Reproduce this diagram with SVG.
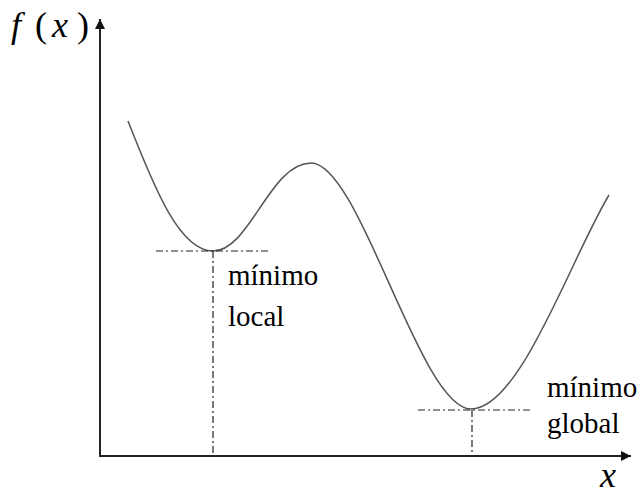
<svg xmlns="http://www.w3.org/2000/svg" width="638" height="496" viewBox="0 0 638 496">
<defs>
<style>
text{font-family:'Liberation Serif','Times New Roman',serif;fill:#000}
.t{font-size:29px}
.ti{font-style:italic;font-size:36px}
.tn{font-size:36px}
.dd{stroke:#222;stroke-width:1.2;stroke-dasharray:7 3 2 3;fill:none}
</style>
<marker id="ah" viewBox="0 0 10 10" refX="10" refY="5" markerWidth="10" markerHeight="10" markerUnits="userSpaceOnUse" orient="auto">
<path d="M0,0 L10,5 L0,10 z" fill="#111"/>
</marker>
</defs>
<rect width="638" height="496" fill="#fff"/>
<g id="axes">
<line x1="100" y1="456" x2="100" y2="19" stroke="#222" stroke-width="2" marker-end="url(#ah)"/>
<line x1="99" y1="456" x2="631" y2="456" stroke="#222" stroke-width="2" marker-end="url(#ah)"/>
</g>
<g id="curve">
<path d="M128,121 C155,190 180,251 213,251 C250,251 270,163 311,163 C360,163 420,409 471,409 C520,409 570,260 609,195" fill="none" stroke="#555" stroke-width="1.5"/>
</g>
<g id="connectors">
<line class="dd" x1="156" y1="251" x2="268" y2="251"/>
<line class="dd" x1="213" y1="251" x2="213" y2="456"/>
<line class="dd" x1="418" y1="410" x2="532" y2="410"/>
<line class="dd" x1="472" y1="410" x2="472" y2="456"/>
</g>
<g id="labels">
<text class="ti" x="11" y="37">f</text>
<text class="tn" x="35" y="37">(</text>
<text class="ti" x="52" y="37">x</text>
<text class="tn" x="77" y="37">)</text>
<text class="ti" x="600" y="487">x</text>
<text class="t" x="228" y="285">mínimo</text>
<text class="t" x="228" y="326">local</text>
<text class="t" x="547" y="397">mínimo</text>
<text class="t" x="547" y="433">global</text>
</g>
</svg>
